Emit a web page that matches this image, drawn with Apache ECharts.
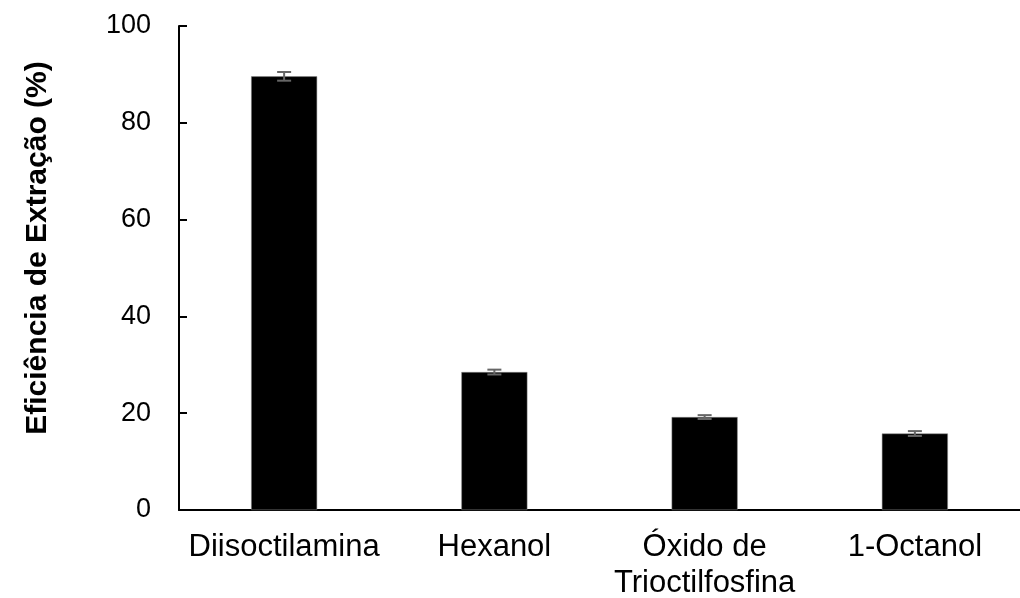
<!DOCTYPE html>
<html>
<head>
<meta charset="utf-8">
<script src="https://cdn.jsdelivr.net/npm/echarts@6/dist/echarts.min.js"></script>
<style>
  html, body { margin: 0; padding: 0; background: #fff; }
  #chart { width: 1020px; height: 598px; }
</style>
</head>
<body>
<div id="chart"></div>
<script>
// dados
const categorias = ['Diisoctilamina', 'Hexanol', 'Óxido de\nTrioctilfosfina', '1-Octanol']
const eficiencia = [89.6, 28.5, 19.2, 15.8]
const desvio = [0.9, 0.5, 0.4, 0.5]
const yTicks = [0, 20, 40, 60, 80, 100]

let chart = echarts.init(document.getElementById('chart'))

let errData = eficiencia.map((v, i) => [i, v - desvio[i], v + desvio[i]])

let option = {
   animation: false,
   grid: {
      left: 179,
      right: 0,
      top: 26,
      bottom: 88,
      outerBoundsMode: 'none'
   },
   xAxis: {
      type: 'category',
      data: categorias,
      axisLine: { lineStyle: { color: '#000', width: 2 } },
      axisTick: { show: false },
      axisLabel: {
         interval: 0,
         color: '#000',
         fontFamily: 'Liberation Sans',
         fontSize: 31,
         margin: 19,
         lineHeight: 36
      }
   },
   yAxis: {
      type: 'value',
      min: yTicks[0],
      max: yTicks[yTicks.length - 1],
      interval: 20,
      name: 'Eficiência de Extração (%)',
      nameLocation: 'middle',
      nameGap: 126,
      nameTextStyle: {
         color: '#000',
         fontFamily: 'Liberation Sans',
         fontSize: 30,
         fontWeight: 'bold',
         padding: [0, 0, 0, 40]
      },
      splitLine: { show: false },
      axisLine: { show: true, lineStyle: { color: '#000', width: 2 } },
      axisTick: { show: true, inside: true, length: 8, lineStyle: { color: '#000', width: 2 } },
      axisLabel: {
         color: '#000',
         fontFamily: 'Liberation Sans',
         fontSize: 27,
         margin: 28
      }
   },
   series: [
      {
         type: 'bar',
         data: eficiencia,
         barWidth: 66,
         itemStyle: { color: '#000', borderColor: '#888', borderWidth: 0.5 }
      },
      {
         type: 'custom',
         data: errData,
         z: 10,
         renderItem: function (params, api) {
            let lo = api.coord([api.value(0), api.value(1)])
            let hi = api.coord([api.value(0), api.value(2)])
            let half = 7
            let style = { stroke: '#666', lineWidth: 2 }
            return {
               type: 'group',
               children: [
                  { type: 'line', shape: { x1: hi[0], y1: hi[1], x2: lo[0], y2: lo[1] }, style: style },
                  { type: 'line', shape: { x1: hi[0] - half, y1: hi[1], x2: hi[0] + half, y2: hi[1] }, style: style },
                  { type: 'line', shape: { x1: lo[0] - half, y1: lo[1], x2: lo[0] + half, y2: lo[1] }, style: style }
               ]
            }
         }
      }
   ]
}

chart.setOption(option)
</script>
</body>
</html>
